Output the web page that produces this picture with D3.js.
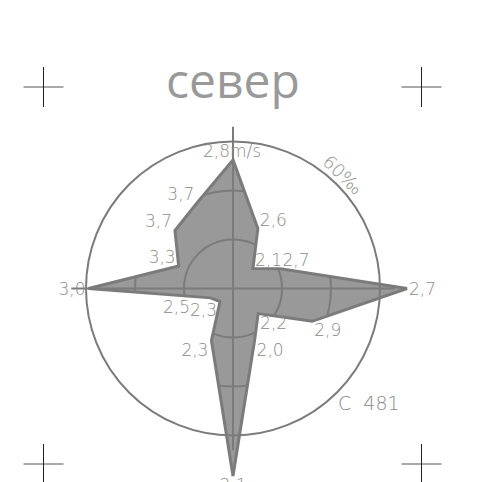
<!DOCTYPE html>
<html>
<head>
<meta charset="utf-8">
<script src="https://cdn.jsdelivr.net/npm/d3@7"></script>
<style>
  html, body { margin: 0; padding: 0; background: #fff; }
  svg { display: block; }
  .lbl { font-family: "DejaVu Sans", sans-serif; font-weight: 200; font-size: 17px; fill: #8a8a8a; white-space: pre; }
</style>
</head>
<body>
<div id="chart"></div>
<script>
// wind rose: frequency of each direction (per mille) and mean speed (m/s)
const directions = ["N", "NNE", "NE", "ENE", "E", "ESE", "SE", "SSE",
  "S", "SSW", "SW", "WSW", "W", "WNW", "NW", "NNW"];
const frequency = [52.5, 26.5, 11.5, 21, 71, 35, 14.5, 23,
  76.5, 23, 7.5, 10, 59, 24, 33.5, 38];
const speedLabels = ["2,8", "2,6", "2,1", "2,7", "2,7", "2,9", "2,2", "2,0",
  "2,1", "2,3", "2,3", "2,5", "3,0", "3,3", "3,7", "3,7"];
const ringValues = [20, 40];
const outerValue = 60;
const speedUnit = "m/s";
const title = "север";
const outerLabel = "60‰";
const stamp = "С  481";

const width = 477, height = 482;
const cx = 233, cy = 288.5;

const svg = d3.select("#chart").append("svg")
  .attr("width", width)
  .attr("height", height);

const r = d3.scaleLinear().domain([0, outerValue]).range([0, 147]);
const angle = d3.scalePoint().domain(directions).range([0, 2 * Math.PI * 15 / 16]);

const g = svg.append("g").attr("transform", `translate(${cx},${cy})`);

const pts = directions.map((d, i) => {
  const a = angle(d);
  const rr = r(frequency[i]);
  return { a: a, x: rr * Math.sin(a), y: -rr * Math.cos(a), label: speedLabels[i] };
});

const line = d3.line().x(d => d.x).y(d => d.y).curve(d3.curveLinearClosed);
const gridColor = "#7b7b7b";

// clip for the inner rings
svg.append("clipPath").attr("id", "rose-clip")
  .append("path")
  .attr("transform", `translate(${cx},${cy})`)
  .attr("d", line(pts));

g.append("path")
  .attr("d", line(pts))
  .attr("fill", "#999");

g.append("g")
  .attr("clip-path", "url(#rose-clip)")
  .attr("transform", `translate(${-cx},${-cy})`)
  .selectAll("circle")
  .data(ringValues)
  .join("circle")
  .attr("cx", cx).attr("cy", cy)
  .attr("r", d => r(d))
  .attr("fill", "none")
  .attr("stroke", gridColor)
  .attr("stroke-width", 2);

// axes
const axLen = r(outerValue * 1.1);
g.append("line").attr("x1", -axLen).attr("x2", axLen).attr("y1", 0).attr("y2", 0)
  .attr("stroke", gridColor).attr("stroke-width", 2);
g.append("line").attr("y1", -axLen).attr("y2", axLen).attr("x1", 0).attr("x2", 0)
  .attr("stroke", gridColor).attr("stroke-width", 2);

// outer circle
g.append("circle")
  .attr("r", r(outerValue))
  .attr("fill", "none")
  .attr("stroke", gridColor)
  .attr("stroke-width", 2);

g.append("path")
  .attr("d", line(pts))
  .attr("fill", "none")
  .attr("stroke", gridColor)
  .attr("stroke-width", 3)
  .attr("stroke-linejoin", "miter");

// speed labels, pushed sideways when they run into an earlier one
const placed = [];
const overlaps = (a, b) => a.x < b.x + b.width && b.x < a.x + a.width &&
  a.y < b.y + b.height && b.y < a.y + a.height;

pts.forEach((p, i) => {
  const s = Math.sin(p.a), c = Math.cos(p.a);
  let anchor = "middle";
  if (s > 0.1) anchor = "start";
  else if (s < -0.1 || c > 0.9) anchor = "end";
  let x = p.x + (anchor === "start" ? 2 : anchor === "end" ? -3 : 0);
  const y = p.y + (Math.abs(c) > 0.1 ? 6 - 9 * Math.sign(c) : 6);
  const t = g.append("text").attr("class", "lbl")
    .attr("x", x).attr("y", y)
    .attr("text-anchor", anchor)
    .text(p.label);
  const step = anchor === "end" ? -1 : 1;
  for (let k = 0; k < 40; k++) {
    const bb = t.node().getBBox();
    const hit = placed.find(b => overlaps({ x: bb.x, y: bb.y + 3, width: bb.width, height: bb.height - 6 }, b));
    if (!hit) break;
    x = step > 0 ? x + (hit.x + hit.width - bb.x) : x - (bb.x + bb.width - hit.x);
    t.attr("x", x);
  }
  const box = t.node().getBBox();
  placed.push({ x: box.x, y: box.y + 3, width: box.width, height: box.height - 6 });
  if (i === 0) {
    g.append("text").attr("class", "lbl")
      .attr("x", x).attr("y", y)
      .text(speedUnit);
  }
});

// 60 per mille label along the circle
const la = 44 * Math.PI / 180, lr = r(outerValue) + 11;
g.append("text").attr("class", "lbl")
  .attr("transform", `translate(${lr * Math.sin(la)},${-lr * Math.cos(la)}) rotate(44)`)
  .attr("text-anchor", "middle")
  .attr("dy", "0.35em")
  .style("font-size", "18px")
  .text(outerLabel);

// title
svg.append("text")
  .attr("x", cx).attr("y", 98)
  .attr("text-anchor", "middle")
  .style("font-family", "'Open Sans', 'Noto Sans', sans-serif")
  .style("font-size", "48px")
  .attr("fill", "#999")
  .text(title);

// stamp
svg.append("text").attr("class", "lbl")
  .attr("x", 338).attr("y", 410)
  .style("font-size", "19px")
  .text(stamp);

// crop marks
const marks = [[43.5, 87], [421.5, 87], [43.5, 464], [421.5, 464]];
marks.forEach(([mx, my]) => {
  svg.append("line").attr("x1", mx - 20).attr("x2", mx + 20).attr("y1", my).attr("y2", my)
    .attr("stroke", "#555").attr("stroke-width", 1);
  svg.append("line").attr("x1", mx).attr("x2", mx).attr("y1", my - 20).attr("y2", my + 20)
    .attr("stroke", "#222").attr("stroke-width", 1);
});
</script>
</body>
</html>
